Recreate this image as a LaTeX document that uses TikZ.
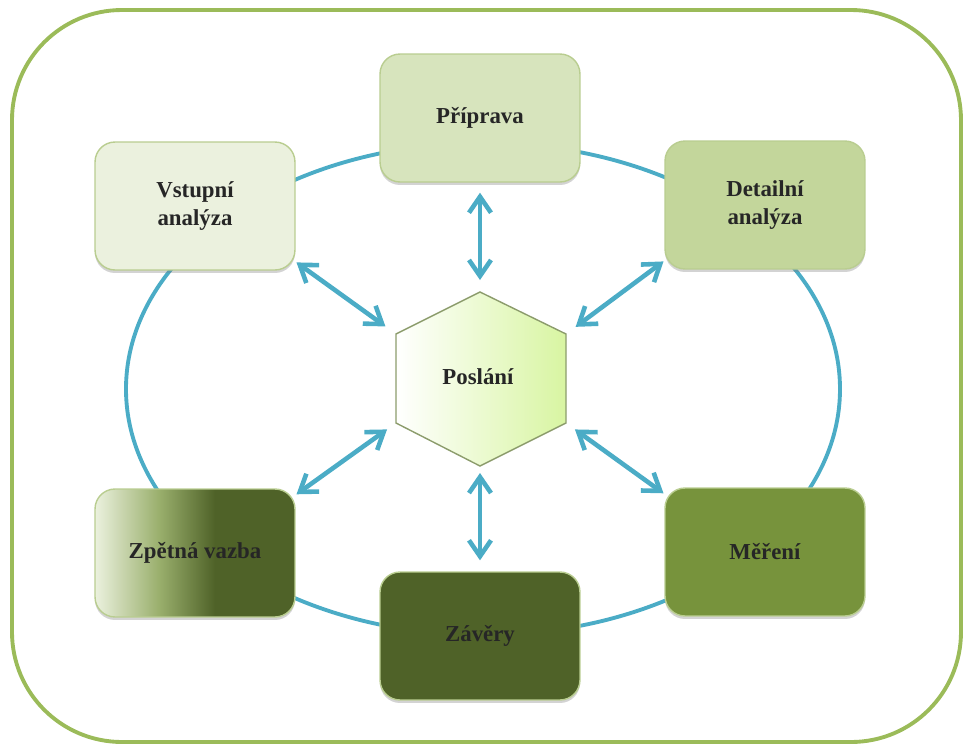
\documentclass[tikz,border=0pt]{standalone}
\usepackage{fontspec}
\setmainfont{Liberation Serif}
\usetikzlibrary{shapes,arrows.meta,shadows,positioning,calc}
\definecolor{framegreen}{HTML}{9BBB59}
\definecolor{ringblue}{HTML}{4BACC6}
\definecolor{vstupfill}{HTML}{EBF1DE}
\definecolor{pripfill}{HTML}{D7E4BD}
\definecolor{detfill}{HTML}{C3D69B}
\definecolor{merfill}{HTML}{77933C}
\definecolor{zavfill}{HTML}{4F6228}
\definecolor{boxline}{HTML}{B9CD90}
\definecolor{hexline}{HTML}{8C9C6C}
\definecolor{hexright}{HTML}{D8F5A2}
\colorlet{zpetmid}{merfill!70!vstupfill}
\pgfdeclarehorizontalshading{zpetshade}{100bp}{%
  color(0bp)=(vstupfill); color(25bp)=(vstupfill); color(41bp)=(zpetmid);
  color(55bp)=(zavfill); color(100bp)=(zavfill)}
\tikzset{
  stage/.style={
    draw=boxline,
    line width=0.8pt,
    rounded corners=0.4cm,
    minimum width=4cm,
    minimum height=2.56cm,
    align=center,
    font=\fontsize{13}{16}\selectfont\bfseries,
    text=black!85,
    drop shadow={shadow xshift=0pt, shadow yshift=-0.06cm, opacity=0.35},
  },
  link/.style 2 args={
    ringblue,
    line width=2.6pt,
    {Straight Barb[length=0.32cm,width=0.44cm]}-{Straight Barb[length=0.32cm,width=0.44cm]},
    shorten <=#1,
    shorten >=#2,
  }
}

\begin{document}
\begin{tikzpicture}[x=0.02cm, y=-0.02cm]
  \useasboundingbox (0,0) rectangle (965,745);

  % outer frame and ring
  \draw[framegreen, line width=2.2pt, rounded corners=2.2cm] (12,10) rectangle (961,742);
  \draw[ringblue, line width=2.2pt] (483,389) ellipse [x radius=357, y radius=246];

  % stages
  \node (priprava) [stage, fill=pripfill] at (480,118) {Příprava};
  \node (vstup) [stage, fill=vstupfill] at (195,206) {Vstupní\\analýza};
  \node (detail) [stage, fill=detfill] at (765,205) {Detailní\\analýza};
  \node (zpet) [stage, shade, shading=zpetshade] at (195,553) {Zpětná vazba};
  \node (zavery) [stage, fill=zavfill] at (480,636) {Závěry};
  \node (mereni) [stage, fill=merfill] at (765,552) {Měření};

  % hexagon
  \coordinate (hext) at (480,292);
  \coordinate (hexur) at (566,334);
  \coordinate (hexlr) at (566,423);
  \coordinate (hexb) at (480,466);
  \coordinate (hexll) at (396,423);
  \coordinate (hexul) at (396,334);
  \shade[left color=white, right color=hexright, draw=hexline, line width=0.8pt]
    (hext) -- (hexur) -- (hexlr) -- (hexb) -- (hexll) -- (hexul) -- cycle;
  \node (poslani) at (478,377) [font=\fontsize{13}{16}\selectfont\bfseries, text=black!85] {Poslání};

  % arrows
  \draw[link={0.2cm}{0.24cm}] (priprava.south) -- (hext);
  \draw[link={0.22cm}{0.14cm}] (zavery.north) -- (hexb);
  \draw[link={0.02cm}{0.26cm}] (vstup.-29) -- (hexul);
  \draw[link={0.02cm}{0.24cm}] (detail.209) -- (hexur);
  \draw[link={0.02cm}{0.22cm}] (zpet.30) -- (hexll);
  \draw[link={0.02cm}{0.22cm}] (mereni.150) -- (hexlr);
\end{tikzpicture}
\end{document}
